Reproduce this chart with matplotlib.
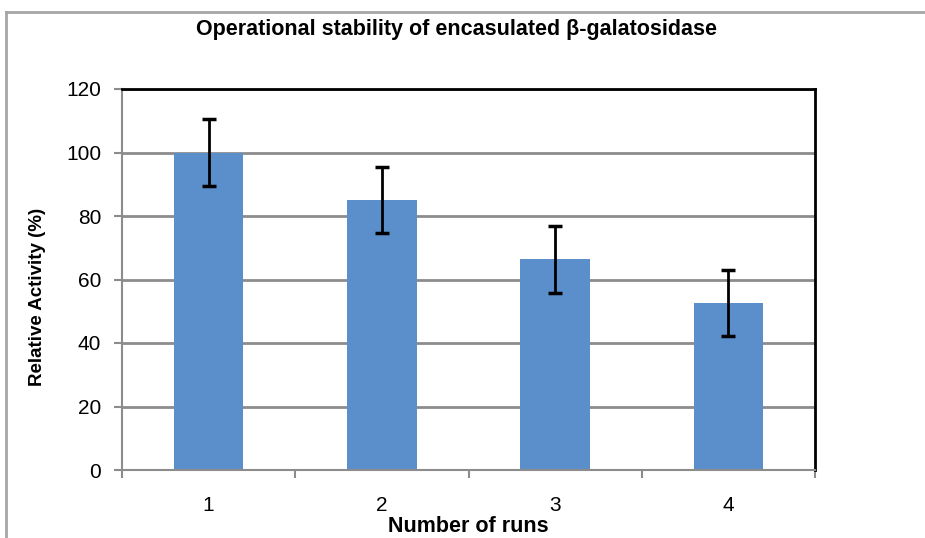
import numpy as np
import matplotlib
matplotlib.use('Agg')
import matplotlib.pyplot as plt
from matplotlib.lines import Line2D

plt.rcParams['font.family'] = ['Liberation Sans', 'DejaVu Sans']

runs = ['1', '2', '3', '4']
activity = [100, 85, 66.3, 52.5]
err = [10.5, 10.3, 10.5, 10.4]
yticks = [0, 20, 40, 60, 80, 100, 120]

fig = plt.figure(figsize=(9.25, 5.38), dpi=100)
# outer chart frame (top and left edges visible)
fig.lines.append(Line2D([6 / 925, 6 / 925], [0, 1 - 12 / 538], transform=fig.transFigure,
                        color='#a6a6a6', linewidth=2))
fig.lines.append(Line2D([6 / 925, 1], [1 - 12 / 538, 1 - 12 / 538], transform=fig.transFigure,
                        color='#a6a6a6', linewidth=2))

ax = fig.add_axes([122 / 925, 68 / 538, 693 / 925, 381 / 538])
x = np.arange(len(runs))
ax.bar(x, activity, width=0.4, color='#5b8fcb', zorder=2)
ax.errorbar(x, activity, yerr=err, fmt='none', ecolor='black',
            elinewidth=2, capsize=5, capthick=2.5, zorder=3)

ax.set_xlim(-0.5, 3.5)
ax.set_ylim(0, 120)
ax.set_yticks(yticks)
ax.set_yticklabels([str(v) for v in yticks], fontsize=15)
ax.yaxis.grid(True, color='#8c8c8c', linewidth=2, zorder=1)

ax.set_xticks(x)
ax.set_xticklabels(runs, fontsize=15)
ax.set_xticks(np.arange(-0.5, 4, 1), minor=True)
ax.tick_params(axis='x', which='major', length=0, pad=19)
ax.tick_params(axis='x', which='minor', length=6, color='#8c8c8c', width=1.5, direction='out')
ax.tick_params(axis='y', length=6, color='#8c8c8c', width=1.5, pad=9)

for s in ['left', 'bottom']:
    ax.spines[s].set_color('#8c8c8c')
    ax.spines[s].set_linewidth(1.5)
for s in ['top', 'right']:
    ax.spines[s].set_color('black')
    ax.spines[s].set_linewidth(2)

fig.text(468 / 925, 1 - 527 / 538, 'Number of runs', ha='center', va='center',
         fontsize=15.5, fontweight='bold')
fig.text(38 / 925, 1 - 297 / 538, 'Relative Activity (%)', ha='center', va='center',
         rotation=90, fontsize=13.5, fontweight='bold')
fig.text(457 / 925, 1 - 30 / 538, 'Operational stability of encasulated β-galatosidase',
         ha='center', va='center', fontsize=15.5, fontweight='bold')

fig.savefig('out.png', dpi=100)
